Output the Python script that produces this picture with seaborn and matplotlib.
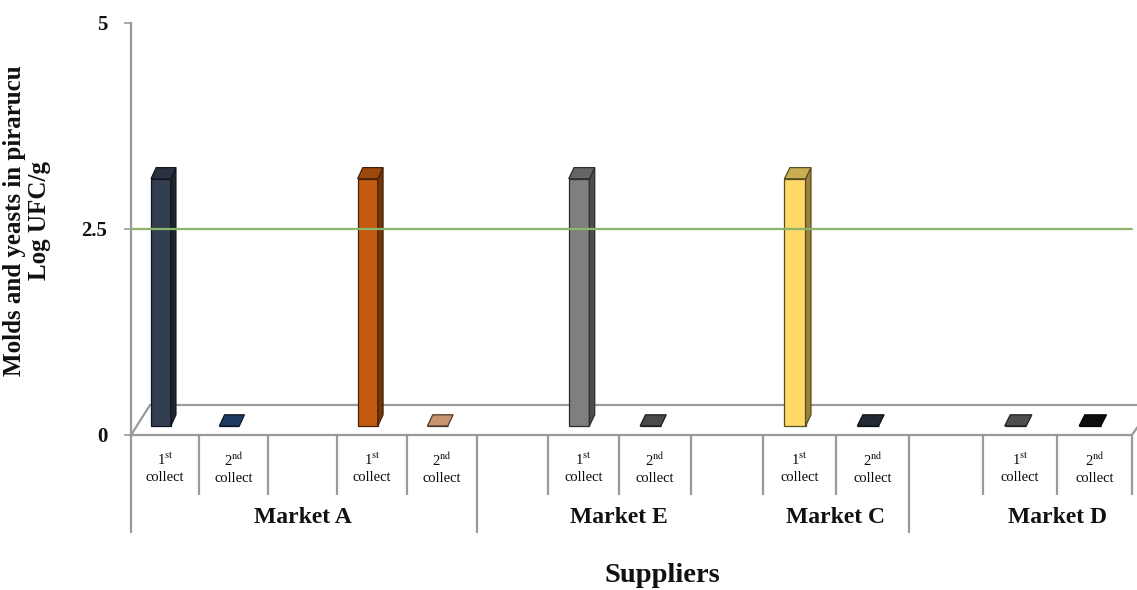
import numpy as np
import pandas as pd
import matplotlib
matplotlib.use("Agg")
import matplotlib.pyplot as plt
import matplotlib.colors as mcolors
from matplotlib.patches import Polygon
import seaborn as sns

# ---------------- data ----------------
slot_count = 14                                   # category slots on the supplier axis
bar_slots = [0, 1, 3, 4, 6, 7, 9, 10, 12, 13]     # slot holding each bar
collects = ["1st", "2nd", "1st", "2nd", "1st", "2nd", "1st", "2nd", "1st", "2nd"]
log_ufc = [3.0, 0.0, 3.0, 0.0, 3.0, 0.0, 3.0, 0.0, 0.0, 0.0]
bar_colors = ["#333F50", "#1F3A60", "#C55A11", "#C8946E", "#7F7F7F",
              "#4A4A4A", "#FFD966", "#222A35", "#4D4D4D", "#0D0D0D"]
markets = ["Market A", "Market E", "Market C", "Market D"]
market_spans = [(0, 5), (5, 9), (9, 11), (12, 14)]
group_breaks = [0, 5, 11]
limit_value = 2.5
y_ticks = [0, 2.5, 5]

# ---------------- style ----------------
sns.set_theme(style="white")
plt.rcParams["font.family"] = ["Liberation Serif", "DejaVu Serif"]
plt.rcParams["mathtext.fontset"] = "stix"

GRID = "#9a9a9a"

fig = plt.figure(figsize=(11.37, 5.90), dpi=100)
ax = fig.add_axes([131 / 1137, 155 / 590, 1006 / 1137, 412 / 590])

df = pd.DataFrame({
    "pos": np.array(bar_slots) + 0.5,
    "value": log_ufc,
    "bar": [f"b{i}" for i in range(len(log_ufc))],
})
palette = dict(zip(df["bar"], bar_colors))
sns.barplot(data=df, x="pos", y="value", hue="bar", palette=palette,
            native_scale=True, width=0.29, dodge=False, legend=False,
            saturation=1, errorbar=None, linewidth=0.9, ax=ax)
bars = list(ax.patches)

# pseudo 3-D geometry (x in slots, y in value units)
face_shift = 0.06     # front face sits a little left of the slot centre
base = 0.11           # bars stand in the middle of the floor depth
ddx, ddy = 0.075, 0.135   # bar depth
fdx, fdy = 0.28, 0.364    # floor depth


def shade(c, f):
    r, g, b, _ = mcolors.to_rgba(c)
    return (r * f, g * f, b * f)


for p in bars:
    fc = p.get_facecolor()
    p.set_x(p.get_x() - face_shift)
    p.set_y(base)
    p.set_edgecolor(shade(fc, 0.35))
    p.set_zorder(2)
    x0, w, h = p.get_x(), p.get_width(), p.get_height()
    top = [(x0, base + h), (x0 + w, base + h),
           (x0 + w + ddx, base + h + ddy), (x0 + ddx, base + h + ddy)]
    if h > 0:
        side = [(x0 + w, base), (x0 + w + ddx, base + ddy),
                (x0 + w + ddx, base + h + ddy), (x0 + w, base + h)]
        ax.add_patch(Polygon(side, closed=True, facecolor=shade(fc, 0.6),
                             edgecolor=shade(fc, 0.35), lw=0.9, zorder=2))
        ax.add_patch(Polygon(top, closed=True, facecolor=shade(fc, 0.8),
                             edgecolor=shade(fc, 0.35), lw=0.9, zorder=2))
    else:
        ax.add_patch(Polygon(top, closed=True, facecolor=fc,
                             edgecolor=shade(fc, 0.4), lw=0.9, zorder=2))

# floor of the 3-D plot area
floor = [(0, 0), (slot_count, 0), (slot_count + fdx, fdy), (fdx, fdy)]
ax.add_patch(Polygon(floor, closed=True, facecolor="white", edgecolor=GRID,
                     lw=1.6, zorder=0.5, clip_on=False))

# reference limit line
sns.lineplot(x=[0, slot_count], y=[limit_value, limit_value], color="#8DB46C",
             lw=1.6, ax=ax, zorder=5)

# category dividers below the floor
short_end, long_end = -0.73, -1.19
for k in range(slot_count + 1):
    end = long_end if k in group_breaks else short_end
    ax.plot([k, k], [0, end], color=GRID, lw=1.6, clip_on=False,
            solid_capstyle="butt", zorder=1)

# collect labels
for s, c in zip(bar_slots, collects):
    ax.text(s + 0.5, -0.40, f"{c[0]}$^{{\\mathrm{{{c[1:]}}}}}$\ncollect",
            ha="center", va="center", fontsize=10.5, linespacing=1.3,
            color="#0a0a0a")

# market labels
for name, (a, b) in zip(markets, market_spans):
    ax.text((a + b) / 2, -1.0, name, ha="center", va="center",
            fontsize=17, fontweight="bold", color="#111111")

# slight perspective widening of the category axis towards the right
q = 0.00375


def fwd(k):
    k = np.asarray(k, dtype=float)
    return k + q * k * k


def inv(v):
    v = np.asarray(v, dtype=float)
    return (-1 + np.sqrt(np.clip(1 + 4 * q * v, 0, None))) / (2 * q)


ax.set_xscale("function", functions=(fwd, inv))
ax.set_xlim(0, 14.067)
ax.set_ylim(0, 5)
ax.set_xticks([])
ax.set_yticks(y_ticks, labels=[f"{v:g}" for v in y_ticks])
for lab in ax.get_yticklabels():
    lab.set_fontweight("bold")
ax.tick_params(axis="y", length=5, width=1.2, color=GRID, pad=12,
               labelsize=15, labelcolor="#111111", left=True)

for side in ["top", "right", "bottom"]:
    ax.spines[side].set_visible(False)
ax.spines["left"].set_color(GRID)
ax.spines["left"].set_linewidth(1.6)

ax.set_xlabel("Suppliers", fontsize=20.5, fontweight="bold", color="#111111")
ax.xaxis.set_label_coords(0.528, -0.34)
ax.xaxis.label.set_va("center")
ax.set_ylabel("")

fig.text(0.024, 0.626, "Molds and yeasts in pirarucu\nLog UFC/g", rotation=90,
         ha="center", va="center", multialignment="center", fontsize=18,
         fontweight="bold", color="#111111", linespacing=1.1)

fig.savefig("out.png", dpi=100, facecolor="white")
